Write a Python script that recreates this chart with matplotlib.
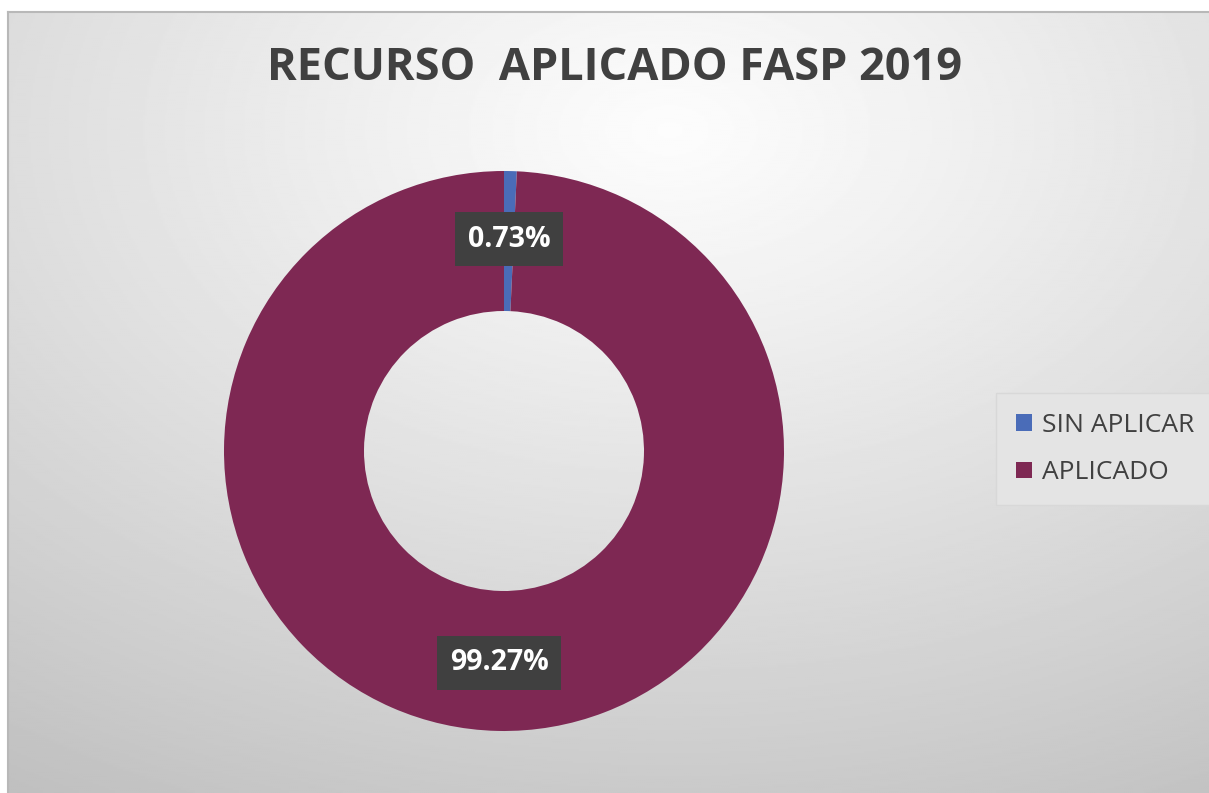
import numpy as np
import matplotlib.pyplot as plt

# Data
labels = ['SIN APLICAR', 'APLICADO']
values = [0.73, 99.27]
colors = ['#4a6cb8', '#7e2853']
title = 'RECURSO  APLICADO FASP 2019'

W, H = 1209, 793
fig = plt.figure(figsize=(W / 100, H / 100), dpi=100)
fig.patch.set_facecolor('white')

# Background with radial gradient
bg = fig.add_axes([8 / W, 0, 1 - 8 / W, (H - 12) / H])
yy, xx = np.mgrid[0:400, 0:600]
cx, cy = 330, 60
d = np.sqrt(((xx - cx) / 600) ** 2 + ((yy - cy) / 400) ** 2)
d = d / d.max()
shade = 0.99 - 0.24 * d ** 1.1
bg.imshow(shade, cmap='gray', vmin=0, vmax=1, aspect='auto', extent=[0, 1, 1, 0])
bg.set_xlim(0, 1)
bg.set_ylim(1, 0)
bg.set_xticks([])
bg.set_yticks([])
for s in ['right', 'bottom']:
    bg.spines[s].set_visible(False)
for s in ['top', 'left']:
    bg.spines[s].set_color('#b8b8b8')
    bg.spines[s].set_linewidth(1.5)

# Title
fig.text(615 / W, 1 - 68 / H, title, ha='center', va='center',
         fontsize=32.5, fontweight='bold', color='#404040', family='Open Sans')

# Donut
ax = fig.add_axes([224 / W, 62 / H, 560 / W, 560 / H])
wedges, _ = ax.pie(values, colors=colors, startangle=90, counterclock=False,
                   radius=1, wedgeprops=dict(width=0.5, linewidth=0))
ax.set_xlim(-1, 1)
ax.set_ylim(-1, 1)
ax.set_aspect('equal')
ax.axis('off')

angle = 90.0
for w, v in zip(wedges, values):
    sweep = v / sum(values) * 360
    mid = np.deg2rad(angle - sweep / 2)
    angle -= sweep
    r = 0.757
    ax.text(r * np.cos(mid), r * np.sin(mid), f'{v:.2f}%', ha='center', va='center',
            fontsize=20.5, fontweight='bold', color='white', family='Open Sans',
            bbox=dict(boxstyle='square,pad=0.45', fc='#404040', ec='none'))

# Legend
leg = fig.legend(wedges, labels, loc='center left',
                 bbox_to_anchor=(996 / W, 1 - 449 / H), frameon=True,
                 prop=dict(family='Open Sans', size=19), labelcolor='#404040',
                 handlelength=0.6, handleheight=0.6, handletextpad=0.4,
                 labelspacing=0.85, borderpad=0.75, borderaxespad=0, fancybox=False)
leg.get_frame().set_facecolor('#e4e4e4')
leg.get_frame().set_edgecolor('#d8d8d8')
leg.get_frame().set_alpha(1)

fig.savefig('out.png', dpi=100)
